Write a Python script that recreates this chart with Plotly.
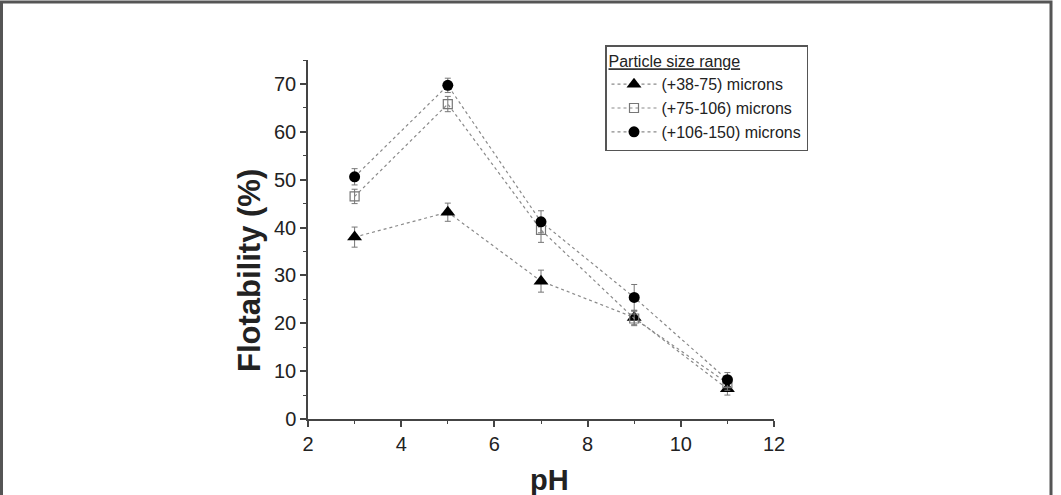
import plotly.graph_objects as go

ph = [3, 5, 7, 9, 11]
names = ["(+38-75) microns", "(+75-106) microns", "(+106-150) microns"]
tri_vals = [38.0, 43.2, 28.8, 21.2, 6.3]
sq_vals = [46.5, 65.8, 39.5, 21.0, 7.5]
circ_vals = [50.6, 69.7, 41.2, 25.4, 8.2]
tri_err = [2.1, 1.9, 2.3, 1.5, 1.3]
sq_err = [1.5, 1.6, 2.6, 1.5, 1.5]
circ_err = [1.7, 1.5, 2.3, 2.7, 1.5]

x_ticks = [2, 4, 6, 8, 10, 12]
y_ticks = [0, 10, 20, 30, 40, 50, 60, 70]
x_title = "pH"
y_title = "Flotability (%)"
legend_title = "Particle size range"

W, H = 1061, 495
L, R, T, B = 308, 774, 60, 419

fig = go.Figure()

series = [
    (names[0], tri_vals, tri_err, dict(symbol="triangle-up", size=13, color="black", line=dict(width=0))),
    (names[1], sq_vals, sq_err, dict(symbol="square-open", size=9, color="#777777", line=dict(width=1.2))),
    (names[2], circ_vals, circ_err, dict(symbol="circle", size=11, color="black", line=dict(width=0))),
]
for name, vals, err, mk in series:
    fig.add_trace(go.Scatter(
        x=ph, y=vals, name=name, mode="lines+markers",
        line=dict(color="#8a8a8a", width=1.2, dash="dot"),
        marker=mk,
        error_y=dict(type="data", array=err, visible=True, color="#777777", thickness=1, width=3),
    ))

def px_x(p):
    return (p - L) / (R - L)

def px_y(p):
    return (B - p) / (B - T)

fig.add_shape(type="rect", xref="paper", yref="paper",
              x0=px_x(1.5), x1=px_x(1051), y0=px_y(520), y1=px_y(2),
              line=dict(color="#555555", width=3), fillcolor="rgba(0,0,0,0)")

fig.add_annotation(xref="paper", yref="paper", x=px_x(549), y=px_y(480),
                   xanchor="center", yanchor="middle", showarrow=False,
                   text="<b>" + x_title + "</b>", font=dict(size=29, color="#222222"))
fig.add_annotation(xref="paper", yref="paper", x=px_x(249), y=px_y(271),
                   xanchor="center", yanchor="middle", showarrow=False, textangle=-90,
                   text="<b>" + y_title + "</b>", font=dict(size=31, color="#222222"))

fig.update_layout(
    width=W, height=H,
    margin=dict(l=L, r=W - R, t=T, b=H - B),
    paper_bgcolor="white", plot_bgcolor="white",
    font=dict(family="Liberation Sans, Arial, sans-serif", color="#222222"),
    showlegend=True,
    legend=dict(
        x=px_x(605), y=px_y(45), xanchor="left", yanchor="top",
        bgcolor="white", bordercolor="#555555", borderwidth=1.5,
        font=dict(size=16, color="#222222"),
        title=dict(text="<u>" + legend_title + "</u>", font=dict(size=16, color="#222222")),
        itemwidth=45, tracegroupgap=0, entrywidth=165,
    ),
)

fig.update_xaxes(
    range=[2, 12], tickvals=x_ticks, ticktext=[str(v) for v in x_ticks],
    showline=True, linecolor="#444444", linewidth=1.5, mirror=False,
    ticks="outside", ticklen=6, tickwidth=1.5, tickcolor="#444444",
    minor=dict(ticks="outside", ticklen=3, tickwidth=1.2, dtick=1, tickcolor="#444444"),
    showgrid=False, zeroline=False,
    tickfont=dict(size=20, color="#222222"),
)
fig.update_yaxes(
    range=[0, 75], tickvals=y_ticks, ticktext=[str(v) for v in y_ticks],
    showline=True, linecolor="#444444", linewidth=1.5, mirror=False,
    ticks="outside", ticklen=6, tickwidth=1.5, tickcolor="#444444",
    minor=dict(ticks="outside", ticklen=3, tickwidth=1.2, dtick=5, tickcolor="#444444"),
    showgrid=False, zeroline=False,
    tickfont=dict(size=20, color="#222222"),
)

fig.write_html("out.html")
